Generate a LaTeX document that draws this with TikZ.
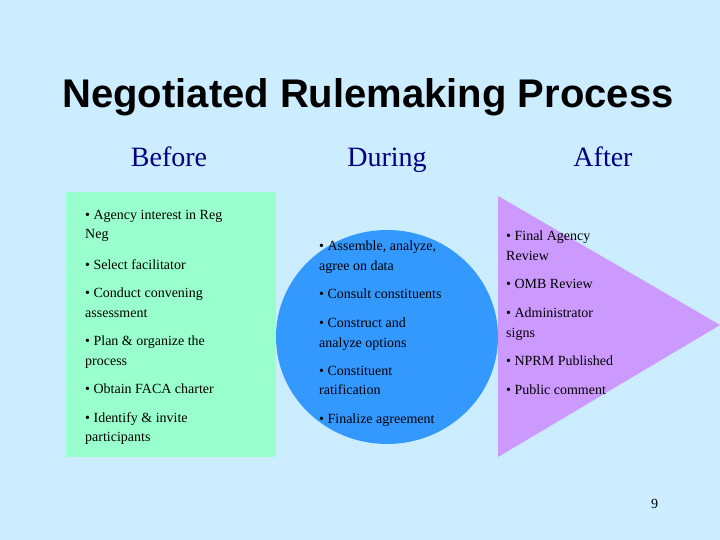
\documentclass[tikz,border=0pt]{standalone}
\usepackage{fontspec}
\setmainfont{Liberation Serif}
\newfontfamily\arial{Liberation Sans}
\definecolor{bg}{HTML}{CCECFF}
\definecolor{boxg}{HTML}{99FFCC}
\definecolor{circb}{HTML}{3399FF}
\definecolor{trip}{HTML}{CC99FF}
\definecolor{head}{HTML}{000080}
\begin{document}
\begin{tikzpicture}[x=1pt,y=-1pt,
  item/.style={anchor=north west,align=left,inner sep=0pt,font=\fontsize{14}{19.5}\selectfont},
  hd/.style={anchor=base,inner sep=0pt,text=head,font=\fontsize{28}{30}\selectfont}]
\fill[bg] (0,0) rectangle (720,540);
\useasboundingbox (0,0) rectangle (720,540);
\node[anchor=base,inner sep=0pt,font=\arial\bfseries\fontsize{40}{44}\selectfont] (title) at (368,108) {Negotiated Rulemaking Process};
\node[hd] (before) at (169,167) {Before};
\node[hd] (during) at (387,167) {During};
\node[hd] (after) at (603,167) {After};
\fill[boxg] (66,192) rectangle (276,457);
\fill[circb] (387,337) ellipse [x radius=111, y radius=107];
\fill[trip] (498,196) -- (720,325) -- (498,457) -- cycle;
% before
\node[item] (b1) at (85,210) {• Agency interest in Reg\\Neg};
\node[item] (b2) at (85,259) {• Select facilitator};
\node[item] (b3) at (85,288) {• Conduct convening\\assessment};
\node[item] (b4) at (85,336) {• Plan \& organize the\\process};
\node[item] (b5) at (85,384) {• Obtain FACA charter};
\node[item] (b6) at (85,412) {• Identify \& invite\\participants};
% during
\node[item] (d1) at (319,241) {• Assemble, analyze,\\agree on data};
\node[item] (d2) at (319,289) {• Consult constituents};
\node[item] (d3) at (319,318) {• Construct and\\analyze options};
\node[item] (d4) at (319,366) {• Constituent\\ratification};
\node[item] (d5) at (319,414) {• Finalize agreement};
% after
\node[item] (a1) at (506,231) {• Final Agency\\Review};
\node[item] (a2) at (506,279) {• OMB Review};
\node[item] (a3) at (506,308) {• Administrator\\signs};
\node[item] (a4) at (506,356) {• NPRM Published};
\node[item] (a5) at (506,385) {• Public comment};
\node[anchor=base west,inner sep=0pt,font=\fontsize{14}{16}\selectfont] (pg) at (651,508) {9};
\end{tikzpicture}
\end{document}
